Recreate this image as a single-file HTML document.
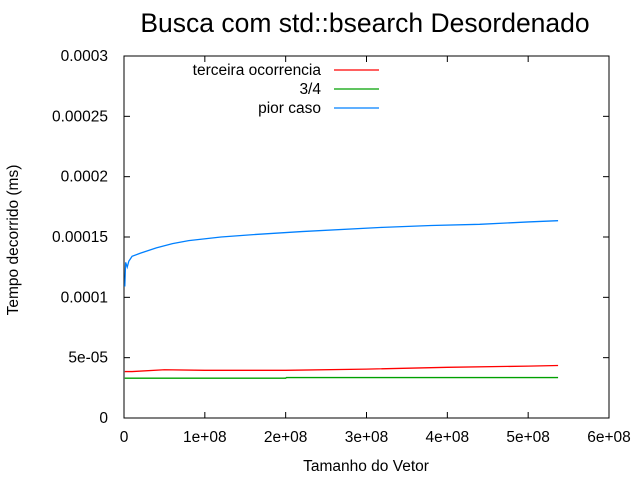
<!DOCTYPE html>
<html><head><meta charset="utf-8"><style>
body{margin:0;background:#fff}
text{font-family:"Liberation Sans",sans-serif;}
</style></head><body>
<svg width="640" height="480">
<g id="g"></g>
</svg>
<script>
const xTicks=[0,1e8,2e8,3e8,4e8,5e8,6e8];
const xTickLabels=["0","1e+08","2e+08","3e+08","4e+08","5e+08","6e+08"];
const yTicks=[0,5e-5,1e-4,1.5e-4,2e-4,2.5e-4,3e-4];
const yTickLabels=["0","5e-05","0.0001","0.00015","0.0002","0.00025","0.0003"];
const seriesNames=["terceira ocorrencia","3/4","pior caso"];
const seriesColors=["#ff0000","#00a000","#0080ff"];
const blueX=[1e6,2e6,4e6,6e6,8e6,1e7,2e7,4e7,6e7,8e7,1.2e8,1.6e8,2.2e8,3.2e8,3.8e8,4.4e8,5e8,5.37e8];
const blueY=[1.09e-4,1.29e-4,1.25e-4,1.3e-4,1.32e-4,1.34e-4,1.365e-4,1.41e-4,1.445e-4,1.47e-4,1.5e-4,1.52e-4,1.545e-4,1.58e-4,1.595e-4,1.605e-4,1.625e-4,1.635e-4];
const redX=[1e6,1e7,5e7,1e8,2e8,3e8,4e8,5e8,5.37e8];
const redY=[3.85e-5,3.85e-5,4.0e-5,3.95e-5,3.95e-5,4.05e-5,4.2e-5,4.3e-5,4.35e-5];
const greenX=[1e6,2e8,2.01e8,5.37e8];
const greenY=[3.3e-5,3.3e-5,3.35e-5,3.35e-5];
const X0=124,X1=609,Y0=418,Y1=56;
const sx=v=>X0+v/6e8*(X1-X0), sy=v=>Y0-v/3e-4*(Y0-Y1);
const g=document.getElementById('g');const NS="http://www.w3.org/2000/svg";
const FS=15.5;
function mk(t,a,txt){const e=document.createElementNS(NS,t);for(const k in a)e.setAttribute(k,a[k]);if(txt!=null)e.textContent=txt;g.appendChild(e);return e;}
let e=mk('rect',{x:X0,y:Y1,width:X1-X0,height:Y0-Y1,fill:'none',stroke:'#000','stroke-width':1});


xTicks.forEach((v,i)=>{const x=sx(v);
mk('line',{x1:x,x2:x,y1:Y0,y2:Y0-6,stroke:'#000'});mk('line',{x1:x,x2:x,y1:Y1,y2:Y1+6,stroke:'#000'});
const t=mk('text',{x:x,y:Y0+24,'text-anchor':'middle','font-size':FS},xTickLabels[i]);

});
yTicks.forEach((v,i)=>{const y=sy(v);
mk('line',{x1:X0,x2:X0+6,y1:y,y2:y,stroke:'#000'});mk('line',{x1:X1,x2:X1-6,y1:y,y2:y,stroke:'#000'});
const t=mk('text',{x:X0-16,y:y+5,'text-anchor':'end','font-size':FS},yTickLabels[i]);

});
function series(xs,ys,c,name){const p=mk('polyline',{points:xs.map((x,i)=>sx(x)+','+sy(ys[i])).join(' '),fill:'none',stroke:c,'stroke-width':1.3});

}
series(redX,redY,seriesColors[0],'series-terceira-ocorrencia');
series(greenX,greenY,seriesColors[1],'series-3-4');
series(blueX,blueY,seriesColors[2],'series-pior-caso');
seriesNames.forEach((n,i)=>{const y=70+i*19;
const t=mk('text',{x:321,y:y+5,'text-anchor':'end','font-size':FS},n);


mk('line',{x1:334,x2:379,y1:y,y2:y,stroke:seriesColors[i],'stroke-width':1.3});});
let t=mk('text',{x:365,y:32,'text-anchor':'middle','font-size':26.5},'Busca com std::bsearch Desordenado');


t=mk('text',{x:366,y:471,'text-anchor':'middle','font-size':FS},'Tamanho do Vetor');


t=mk('text',{x:18,y:240,'text-anchor':'middle','font-size':FS,transform:'rotate(-90 18 240)'},'Tempo decorrido (ms)');


</script>
</body></html>
